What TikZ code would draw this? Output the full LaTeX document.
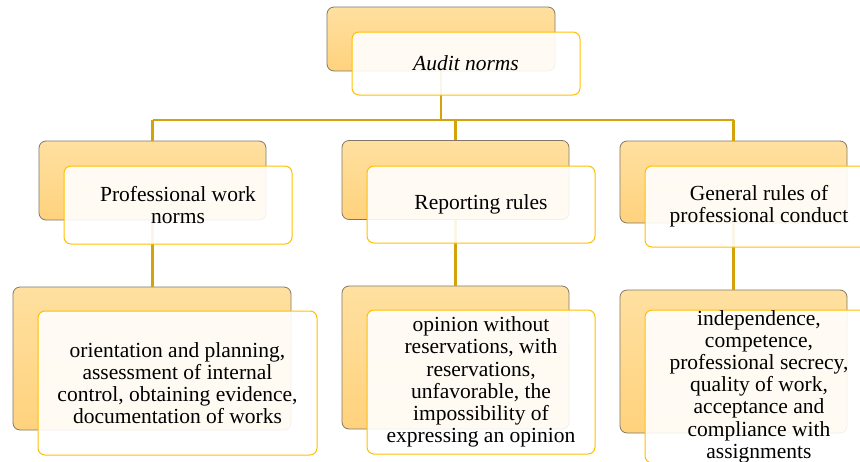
\documentclass[tikz,border=0pt]{standalone}
\usepackage{fontspec}
\setmainfont{Liberation Serif}
\definecolor{linegold}{RGB}{212,163,10}
\definecolor{frontedge}{RGB}{255,192,0}
\definecolor{backtop}{RGB}{255,224,160}
\definecolor{backbot}{RGB}{255,210,125}
\definecolor{backedge}{RGB}{128,120,105}
\begin{document}
\begin{tikzpicture}[x=1pt,y=-1pt,
  backbox/.style={draw=backedge, line width=0.8pt, rounded corners=7pt,
    top color=backtop, bottom color=backbot, inner sep=0pt},
  frontbox/.style={draw=frontedge, line width=1pt, rounded corners=7pt,
    fill=white, fill opacity=0.9, text opacity=1, inner sep=0pt,
    align=center, font=\fontsize{21.5}{22.2}\selectfont},
  link/.style={draw=linegold, line width=2.5pt}]
\useasboundingbox (0,0) rectangle (860,461);
% back boxes
\node[backbox, minimum width=228pt, minimum height=64pt] (b0) at (441,39) {};
\node[backbox, minimum width=227pt, minimum height=79pt] (b1) at (152.5,180.5) {};
\node[backbox, minimum width=227pt, minimum height=79pt] (b2) at (455.5,180) {};
\node[backbox, minimum width=227pt, minimum height=82pt] (b3) at (733.5,182) {};
\node[backbox, minimum width=278pt, minimum height=143pt] (c1) at (152,358.5) {};
\node[backbox, minimum width=227pt, minimum height=143pt] (c2) at (455.5,357.5) {};
\node[backbox, minimum width=227pt, minimum height=143pt] (c3) at (733.5,361.5) {};
% connectors
\coordinate (hub) at (441,120);
\draw[link] (b0.south) -- (hub);
\draw[link] (b1.north |- hub) -- (b3.north |- hub);
\draw[link] (b1.north |- hub) -- (b1.north);
\draw[link] (b2.north |- hub) -- (b2.north);
\draw[link] (b3.north |- hub) -- (b3.north);
\draw[link] (b1.south) -- (b1.south |- c1.north);
\draw[link] (b2.south) -- (b2.south |- c2.north);
\draw[link] (b3.south) -- (b3.south |- c3.north);
% front boxes
\node[frontbox, minimum width=228pt, minimum height=63pt] (f0) at (466,63.5) {\itshape Audit norms};
\node[frontbox, minimum width=228pt, minimum height=78pt] (f1) at (178,205) {Professional work\\norms};
\node[frontbox, minimum width=228pt, minimum height=77pt] (f2) at (481,204.5) {Reporting rules};
\node[frontbox, minimum width=228pt, minimum height=81pt] (f3) at (759,206.5) {General rules of\\professional conduct};
\node[frontbox, minimum width=279pt, minimum height=144pt] (g1) at (177.5,383) {orientation and planning,\\assessment of internal\\control, obtaining evidence,\\documentation of works};
\node[frontbox, minimum width=228pt, minimum height=144pt] (g2) at (481,382) {opinion without\\reservations, with\\reservations,\\unfavorable, the\\impossibility of\\expressing an opinion};
\node[frontbox, minimum width=228pt, minimum height=145pt] (g3) at (759,386.5) {independence,\\competence,\\professional secrecy,\\quality of work,\\acceptance and\\compliance with\\assignments};
\end{tikzpicture}
\end{document}
